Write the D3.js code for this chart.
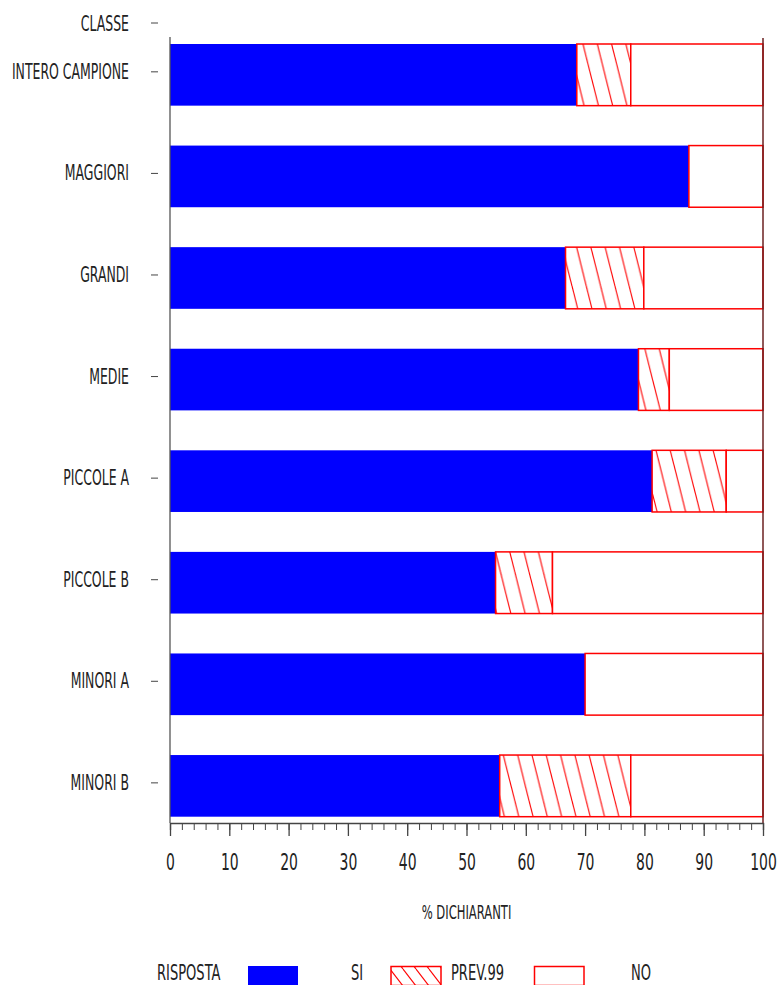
<!DOCTYPE html>
<html>
<head>
<meta charset="utf-8">
<script src="https://cdn.jsdelivr.net/npm/d3@7"></script>
<style>
  body { margin: 0; background: #fff; }
  svg text { font-family: "Liberation Sans Narrow", "DejaVu Sans Condensed", sans-serif; fill: #222; }
</style>
</head>
<body>
<svg id="chart" width="780" height="985"></svg>
<script>
// values (% of respondents)
const classes = ["INTERO CAMPIONE", "MAGGIORI", "GRANDI", "MEDIE", "PICCOLE A", "PICCOLE B", "MINORI A", "MINORI B"];
const si = [68.6, 87.5, 66.7, 79.0, 81.3, 54.9, 70.0, 55.6];
const prev99 = [9.1, 0, 13.2, 5.2, 12.5, 9.6, 0, 22.1];
const no = [22.3, 12.5, 20.1, 15.8, 6.2, 35.5, 30.0, 22.3];
const keys = ["SI", "PREV.99", "NO"];
const majorTicks = [0, 10, 20, 30, 40, 50, 60, 70, 80, 90, 100];
const minorTicks = d3.range(0, 101, 2);

const svg = d3.select("#chart");
const plotLeft = 170, plotRight = 763, plotTop = 44, plotBottom = 816.7, axisY = 823;
const sx = 0.66; // condensed look of the original font

const x = d3.scaleLinear().domain([0, 100]).range([plotLeft, plotRight]);
const y = d3.scaleBand().domain(classes).range([plotTop, plotBottom]).paddingInner(0.393).paddingOuter(0);

rows = classes.map((c, i) => ({ classe: c, "SI": si[i], "PREV.99": prev99[i], "NO": no[i] }));
const series = d3.stack().keys(keys)(rows);

function label(x0, y0, txt, size, anchor) {
  return svg.append("text")
    .attr("transform", `translate(${x0},${y0}) scale(${sx},1)`)
    .attr("text-anchor", anchor || "start")
    .style("font-size", size + "px")
    .text(txt);
}

// hatch patterns
const defs = svg.append("defs");
function hatch(id, w, h) {
  const p = defs.append("pattern").attr("id", id)
    .attr("patternUnits", "userSpaceOnUse")
    .attr("width", w).attr("height", h);
  [-w, 0, w].forEach(o => {
    p.append("line")
      .attr("x1", o).attr("y1", 0).attr("x2", o + w).attr("y2", h)
      .attr("stroke", "#ff0000").attr("stroke-width", 1.1);
  });
}
hatch("hatchBar", 14.3, 57.2);
hatch("hatchLeg", 13, 17);

const fills = { "SI": "#0000ff", "PREV.99": "url(#hatchBar)", "NO": "#ffffff" };

series.forEach(s => {
  svg.append("g").selectAll("rect")
    .data(s.filter(d => d[1] - d[0] > 0))
    .join("rect")
    .attr("x", d => x(d[0]))
    .attr("y", d => y(d.data.classe))
    .attr("width", d => x(d[1]) - x(d[0]))
    .attr("height", y.bandwidth())
    .attr("fill", fills[s.key])
    .attr("stroke", s.key == "SI" ? "none" : "#ff0000")
    .attr("stroke-width", 1.5);
});

// vertical axis lines
svg.append("line").attr("x1", plotLeft).attr("x2", plotLeft).attr("y1", 37).attr("y2", axisY)
  .attr("stroke", "#555").attr("stroke-width", 1.3);
svg.append("line").attr("x1", plotRight).attr("x2", plotRight).attr("y1", 38).attr("y2", axisY)
  .attr("stroke", "#6b2020").attr("stroke-width", 1.5);

// category labels and detached ticks
classes.forEach(c => {
  const cy = y(c) + y.bandwidth() / 2 - 3;
  label(129, cy + 7, c, 21, "end");
  svg.append("line").attr("x1", 151).attr("x2", 158).attr("y1", cy).attr("y2", cy)
    .attr("stroke", "#444").attr("stroke-width", 1);
});
label(129, 31, "CLASSE", 21, "end");
svg.append("line").attr("x1", 151).attr("x2", 158).attr("y1", 23).attr("y2", 23)
  .attr("stroke", "#444").attr("stroke-width", 1);

// bottom axis: minor ticks every 2, major every 10
svg.append("g").attr("transform", `translate(0,${axisY})`)
  .call(d3.axisBottom(x).tickValues(minorTicks).tickSize(7).tickFormat(""))
  .call(g => g.selectAll("line").attr("stroke", "#444"))
  .call(g => g.select(".domain").attr("stroke", "#444").attr("stroke-width", 1.3));
const ax = svg.append("g").attr("transform", `translate(0,${axisY})`)
  .call(d3.axisBottom(x).tickValues(majorTicks).tickSize(13))
  .call(g => g.select(".domain").remove())
  .call(g => g.selectAll("line").attr("stroke", "#444").attr("stroke-width", 1.3));
ax.selectAll("text")
  .attr("y", 0).attr("dy", null)
  .attr("transform", `translate(0,47) scale(${sx},1)`)
  .attr("fill", "#222")
  .style("font-size", "23.5px")
  .style("font-family", "'Liberation Sans Narrow', 'DejaVu Sans Condensed', sans-serif");

label((plotLeft + plotRight) / 2, 919, "% DICHIARANTI", 19.5, "middle");

// legend
label(157, 979.5, "RISPOSTA", 22);
svg.append("rect").attr("x", 248).attr("y", 966).attr("width", 50).attr("height", 19).attr("fill", "#0000ff");
label(351, 979.5, "SI", 22);
svg.append("rect").attr("x", 391).attr("y", 966.5).attr("width", 50).attr("height", 19)
  .attr("fill", "url(#hatchLeg)").attr("stroke", "#ff0000").attr("stroke-width", 1.5);
label(451, 979.5, "PREV.99", 22);
svg.append("rect").attr("x", 534.5).attr("y", 966.5).attr("width", 49.5).attr("height", 19)
  .attr("fill", "#fff").attr("stroke", "#ff0000").attr("stroke-width", 1.5);
label(631, 979.5, "NO", 22);
</script>
</body>
</html>
